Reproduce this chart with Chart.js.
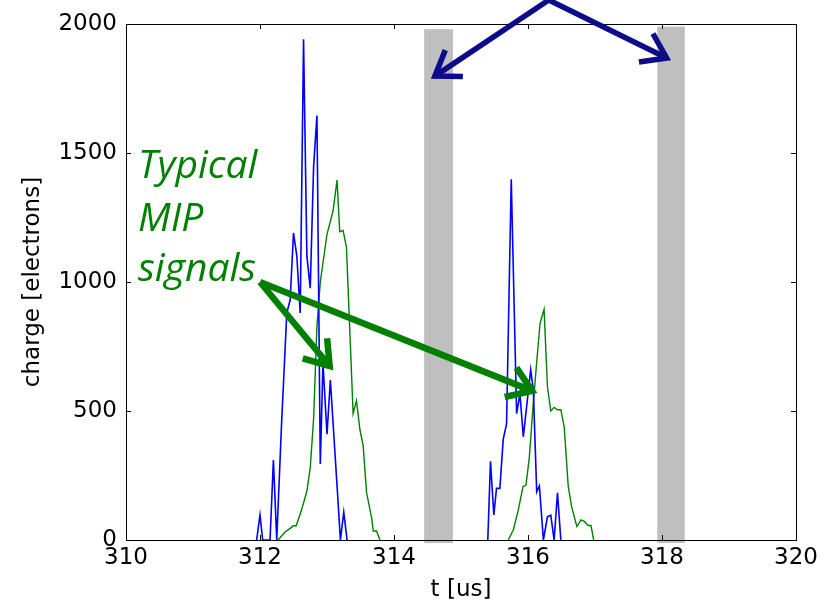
<!DOCTYPE html>
<html>
<head>
<meta charset="utf-8">
<style>
  html, body { margin: 0; padding: 0; background: #fff; }
  #wrap { width: 836px; height: 600px; }
</style>
</head>
<body>
<div id="wrap"><canvas id="chart"></canvas></div>
<script src="https://cdn.jsdelivr.net/npm/chart.js"></script>
<script>
// blue channel, two pulses (t in us, charge in electrons)
const blueT1 = [311.95, 312.0, 312.04, 312.15, 312.2, 312.25, 312.32, 312.4, 312.45, 312.5, 312.55, 312.6, 312.65, 312.7, 312.75, 312.8, 312.85, 312.9, 312.94, 313.0, 313.05, 313.15, 313.2, 313.25, 313.3];
const blueQ1 = [0, 97, 0, 0, 310, 0, 440, 880, 930, 1190, 1100, 880, 1941, 1100, 976, 1447, 1645, 295, 686, 410, 620, 210, 0, 108, 0];
const blueT2 = [315.4, 315.44, 315.49, 315.53, 315.58, 315.63, 315.68, 315.75, 315.83, 315.88, 315.93, 316.04, 316.08, 316.13, 316.17, 316.23, 316.29, 316.34, 316.39, 316.44, 316.49];
const blueQ2 = [0, 305, 97, 200, 200, 390, 450, 1398, 490, 565, 400, 660, 580, 187, 210, 0, 90, 96, 0, 183, 0];
// green channel
const greenT1 = [312.27, 312.37, 312.45, 312.5, 312.54, 312.62, 312.7, 312.75, 312.8, 312.85, 312.9, 313.0, 313.09, 313.15, 313.19, 313.24, 313.29, 313.39, 313.44, 313.49, 313.54, 313.59, 313.67, 313.69, 313.74, 313.79];
const greenQ1 = [0, 30, 45, 55, 55, 116, 190, 280, 470, 830, 1000, 1185, 1275, 1395, 1195, 1200, 1135, 490, 540, 430, 365, 185, 80, 35, 35, 0];
const greenT2 = [315.705, 315.78, 315.855, 315.925, 315.97, 316.02, 316.07, 316.13, 316.18, 316.24, 316.29, 316.34, 316.39, 316.44, 316.49, 316.54, 316.6, 316.65, 316.73, 316.79, 316.84, 316.9, 316.94, 316.98];
const greenQ2 = [0, 39, 116, 207, 213, 320, 500, 690, 840, 894, 595, 500, 514, 505, 505, 439, 210, 130, 52, 78, 72, 56, 56, 0];
// grey bands
const bandLo = [314.45, 317.93];
const bandHi = [314.88, 318.34];
const bandTop = [1980, 1990];
const bandBottom = -12;

const xTicks = [310, 312, 314, 316, 318, 320];
const yTicks = [0, 500, 1000, 1500, 2000];

const pts = (t, q) => t.map((v, i) => ({ x: v, y: q[i] }));
const gap = { x: 314.5, y: null };

const overlay = {
  id: 'overlay',
  beforeDatasetsDraw(chart) {
    const { ctx, scales: { x, y } } = chart;
    ctx.save();
    ctx.fillStyle = '#bfbfbf';
    bandLo.forEach((lo, i) => {
      const l = x.getPixelForValue(lo), r = x.getPixelForValue(bandHi[i]);
      const t = y.getPixelForValue(bandTop[i]), b = y.getPixelForValue(bandBottom);
      ctx.fillRect(l, t, r - l, b - t);
    });
    ctx.restore();
  },
  afterDatasetsDraw(chart) {
    const { ctx, chartArea: a, scales: { x, y } } = chart;
    ctx.save();
    ctx.strokeStyle = '#000';
    ctx.lineWidth = 1;
    ctx.beginPath();
    xTicks.forEach(v => {
      const px = Math.round(x.getPixelForValue(v)) + 0.5;
      ctx.moveTo(px, a.bottom); ctx.lineTo(px, a.bottom - 5);
      ctx.moveTo(px, a.top); ctx.lineTo(px, a.top + 5);
    });
    yTicks.forEach(v => {
      const py = Math.round(y.getPixelForValue(v)) + 0.5;
      ctx.moveTo(a.left, py); ctx.lineTo(a.left + 5, py);
      ctx.moveTo(a.right, py); ctx.lineTo(a.right - 5, py);
    });
    ctx.stroke();
    ctx.strokeRect(Math.round(a.left) + 0.5, Math.round(a.top) + 0.5, Math.round(a.right - a.left), Math.round(a.bottom - a.top));
    ctx.restore();
  },
  afterDraw(chart) {
    const { ctx, scales: { x, y } } = chart;
    const P = (dx, dy) => [x.getPixelForValue(dx), y.getPixelForValue(dy)];
    const head = (tip, from, len) => {
      const ang = Math.atan2(from[1] - tip[1], from[0] - tip[0]);
      ctx.beginPath();
      ctx.moveTo(tip[0] + len * Math.cos(ang + 0.6), tip[1] + len * Math.sin(ang + 0.6));
      ctx.lineTo(tip[0], tip[1]);
      ctx.lineTo(tip[0] + len * Math.cos(ang - 0.6), tip[1] + len * Math.sin(ang - 0.6));
      ctx.stroke();
    };
    ctx.save();
    ctx.lineJoin = 'miter';
    // navy arrows to the grey bands
    const apex = P(316.31, 2093), b1 = P(314.61, 1798), b2 = P(318.07, 1868);
    ctx.strokeStyle = '#0c0c8a';
    ctx.lineWidth = 5.5;
    ctx.beginPath();
    ctx.moveTo(b1[0], b1[1]); ctx.lineTo(apex[0], apex[1]); ctx.lineTo(b2[0], b2[1]);
    ctx.stroke();
    head(b1, apex, 28);
    head(b2, apex, 28);
    // green arrows to the signals
    const g0 = P(312.0, 1000), g1 = P(313.04, 674), g2 = P(316.06, 578);
    ctx.strokeStyle = '#008000';
    ctx.lineWidth = 6.5;
    [g1, g2].forEach(g => {
      ctx.beginPath();
      ctx.moveTo(g0[0], g0[1]); ctx.lineTo(g[0], g[1]);
      ctx.stroke();
      head(g, g0, 28);
    });
    // label
    ctx.fillStyle = '#008000';
    ctx.font = 'italic 39px "Open Sans"';
    ctx.textBaseline = 'alphabetic';
    ctx.textAlign = 'left';
    [['Typical', 1405], ['MIP', 1198], ['signals', 1004]].forEach(([s, v]) => {
      const p = P(310.18, v);
      ctx.fillText(s, p[0], p[1]);
    });
    ctx.restore();
  }
};

const tickFont = { family: 'DejaVu Sans', size: 23 };

new Chart(document.getElementById('chart'), {
  type: 'line',
  data: {
    datasets: [
      { label: 'blue', data: [...pts(blueT1, blueQ1), gap, ...pts(blueT2, blueQ2)], borderColor: '#0000ff', borderWidth: 1.6, pointRadius: 0, tension: 0, spanGaps: false },
      { label: 'green', data: [...pts(greenT1, greenQ1), gap, ...pts(greenT2, greenQ2)], borderColor: '#008000', borderWidth: 1.4, pointRadius: 0, tension: 0, spanGaps: false }
    ]
  },
  options: {
    responsive: true,
    maintainAspectRatio: false,
    animation: false,
    layout: { padding: { top: 24, right: 40, left: 0, bottom: 0 } },
    plugins: { legend: { display: false }, tooltip: { enabled: false } },
    scales: {
      x: {
        type: 'linear', min: 310, max: 320,
        afterBuildTicks: s => { s.ticks = xTicks.map(v => ({ value: v })); },
        afterFit: s => { s.height = 60; },
        grid: { display: false, drawTicks: false },
        border: { display: false },
        ticks: { color: '#000', font: tickFont, padding: 4, maxRotation: 0, autoSkip: false, callback: v => String(v) },
        title: { display: true, text: 't [us]', color: '#000', padding: 0, font: { family: 'DejaVu Sans', size: 23, lineHeight: '20px' } }
      },
      y: {
        min: 0, max: 2000,
        afterBuildTicks: s => { s.ticks = yTicks.map(v => ({ value: v })); },
        afterFit: s => { s.width = 126; },
        grid: { display: false, drawTicks: false },
        border: { display: false },
        ticks: { color: '#000', font: tickFont, padding: 9, autoSkip: false, callback: v => String(v) },
        title: { display: true, text: 'charge [electrons]', color: '#000', padding: 0, font: { family: 'DejaVu Sans', size: 23, lineHeight: '66px' } }
      }
    }
  },
  plugins: [overlay]
});
</script>
</body>
</html>
